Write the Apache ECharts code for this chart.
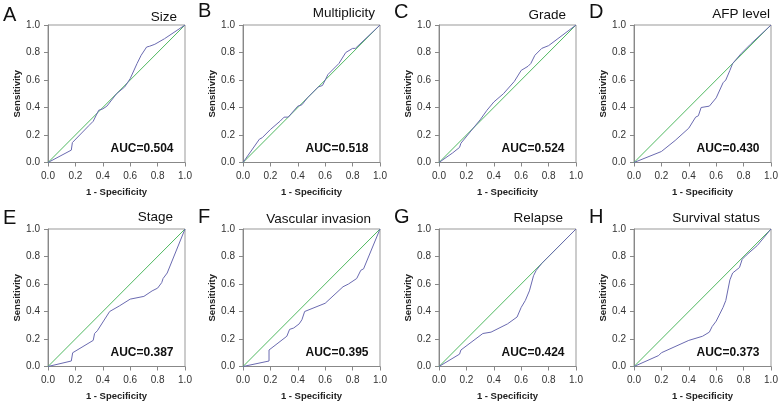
<!DOCTYPE html>
<html><head><meta charset="utf-8">
<script src="https://cdn.jsdelivr.net/npm/echarts@6/dist/echarts.min.js"></script>
<style>html,body{margin:0;padding:0;background:#fff}#c{width:782px;height:405px}</style>
</head><body><div id="c"></div>
<script>
const letters = ['A','B','C','D','E','F','G','H'];
const titles = ['Size','Multiplicity','Grade','AFP level','Stage','Vascular invasion','Relapse','Survival status'];
const aucs = ['AUC=0.504','AUC=0.518','AUC=0.524','AUC=0.430','AUC=0.387','AUC=0.395','AUC=0.424','AUC=0.373'];
const xTicks = ['0.0','0.2','0.4','0.6','0.8','1.0'];
const diagonal = [[0,0],[1,1]];
const rocSize = [[0,0],[0.17,0.09],[0.178,0.145],[0.30,0.27],[0.33,0.30],[0.37,0.38],[0.40,0.39],[0.43,0.41],[0.5,0.5],[0.56,0.55],[0.60,0.61],[0.65,0.72],[0.68,0.78],[0.72,0.84],[0.74,0.845],[0.78,0.86],[0.85,0.90],[1,1]];
const rocMultiplicity = [[0,0],[0.12,0.17],[0.14,0.18],[0.2,0.24],[0.27,0.30],[0.3,0.33],[0.33,0.33],[0.4,0.41],[0.43,0.42],[0.47,0.47],[0.55,0.55],[0.58,0.56],[0.62,0.64],[0.7,0.72],[0.75,0.80],[0.8,0.83],[0.82,0.83],[1,1]];
const rocGrade = [[0,0],[0.1,0.07],[0.15,0.11],[0.16,0.14],[0.25,0.25],[0.3,0.31],[0.35,0.38],[0.4,0.44],[0.47,0.50],[0.55,0.59],[0.6,0.67],[0.65,0.70],[0.67,0.72],[0.7,0.78],[0.75,0.83],[0.8,0.85],[1,1]];
const rocAFP = [[0,0],[0.2,0.08],[0.3,0.16],[0.4,0.25],[0.45,0.33],[0.47,0.34],[0.49,0.40],[0.55,0.41],[0.6,0.47],[0.65,0.58],[0.67,0.60],[0.7,0.67],[0.72,0.72],[0.78,0.79],[0.85,0.86],[1,1]];
const rocStage = [[0,0],[0.17,0.04],[0.18,0.10],[0.33,0.19],[0.34,0.24],[0.36,0.26],[0.45,0.40],[0.52,0.44],[0.6,0.49],[0.7,0.51],[0.76,0.55],[0.8,0.57],[0.83,0.61],[0.84,0.64],[0.87,0.68],[1,1]];
const rocVascular = [[0,0],[0.19,0.04],[0.19,0.12],[0.32,0.22],[0.34,0.27],[0.37,0.28],[0.41,0.31],[0.43,0.34],[0.45,0.40],[0.6,0.46],[0.73,0.58],[0.77,0.60],[0.83,0.64],[0.86,0.70],[0.88,0.71],[1,1]];
const rocRelapse = [[0,0],[0.15,0.09],[0.16,0.12],[0.32,0.24],[0.38,0.25],[0.5,0.31],[0.57,0.36],[0.6,0.43],[0.63,0.48],[0.66,0.55],[0.69,0.66],[0.71,0.70],[0.75,0.75],[1,1]];
const rocSurvival = [[0,0],[0.18,0.08],[0.2,0.10],[0.4,0.19],[0.5,0.22],[0.55,0.25],[0.57,0.29],[0.6,0.33],[0.65,0.43],[0.67,0.48],[0.70,0.63],[0.72,0.68],[0.77,0.72],[0.79,0.78],[0.82,0.81],[0.9,0.88],[1,1]];
const curves = [rocSize,rocMultiplicity,rocGrade,rocAFP,rocStage,rocVascular,rocRelapse,rocSurvival];

// layout (pixels)
const colLeft = [48, 243, 439, 634];
const rowTop = [25, 229];
const W = 137, H = 137.5;
const titleRightOff = [129, 132, 127, 136, 125, 128, 124, 126];
const titleY = [17, 13, 15.5, 14.5, 217.5, 219, 218, 218];
const letterY = [15, 11.5, 12, 12, 218.5, 217.5, 217.5, 217.5];
const FONT = '"Liberation Sans", Arial, sans-serif';

const grid = [], xAxis = [], yAxis = [], series = [], graphic = [];
for (let i = 0; i < 8; i++) {
  const L = colLeft[i % 4], T = rowTop[Math.floor(i / 4)];
  grid.push({left: L, top: T, width: W, height: H, show: true, borderColor: '#999', borderWidth: 1, backgroundColor: 'transparent'});
  const axisCommon = {
    min: 0, max: 1, interval: 0.2,
    axisLine: {show: true, onZero: false, lineStyle: {color: '#888', width: 1}},
    axisTick: {show: true, length: 4, lineStyle: {color: '#888'}},
    splitLine: {show: false},
    axisLabel: {color: '#333', fontSize: 10, fontFamily: FONT, formatter: v => xTicks[Math.round(v * 5)]},
    nameTextStyle: {color: '#222', fontSize: 9.5, fontWeight: 'bold', fontFamily: FONT}
  };
  xAxis.push(Object.assign({}, axisCommon, {type: 'value', gridIndex: i, name: '1 - Specificity', nameLocation: 'middle', nameGap: 25,
    axisLabel: Object.assign({}, axisCommon.axisLabel, {margin: 9})}));
  yAxis.push(Object.assign({}, axisCommon, {type: 'value', gridIndex: i, name: 'Sensitivity', nameLocation: 'middle', nameGap: 25,
    axisLabel: Object.assign({}, axisCommon.axisLabel, {margin: 8})}));
  series.push({type: 'line', xAxisIndex: i, yAxisIndex: i, data: diagonal, showSymbol: false, silent: true,
    lineStyle: {color: '#4fb860', width: 1}});
  series.push({type: 'line', xAxisIndex: i, yAxisIndex: i, data: curves[i], showSymbol: false, silent: true,
    lineStyle: {color: '#6a6ab0', width: 1}});
  graphic.push({type: 'text', x: L - 45, y: letterY[i], style: {text: letters[i], font: '20px ' + FONT, fill: '#111', align: 'left', verticalAlign: 'middle'}});
  graphic.push({type: 'text', x: L + titleRightOff[i], y: titleY[i], style: {text: titles[i], font: '13.5px ' + FONT, fill: '#111', align: 'right', verticalAlign: 'middle'}});
  graphic.push({type: 'text', x: L + 94, y: T + 123.5, style: {text: aucs[i], font: 'bold 12px ' + FONT, fill: '#111', align: 'center', verticalAlign: 'middle'}});
}
const chart = echarts.init(document.getElementById('c'), null, {renderer: 'canvas'});
chart.setOption({animation: false, grid, xAxis, yAxis, series, graphic});
</script></body></html>
